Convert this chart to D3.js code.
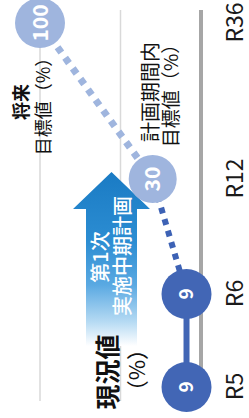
<!DOCTYPE html>
<html>
<head>
<meta charset="utf-8">
<script src="https://cdn.jsdelivr.net/npm/d3@7"></script>
<style>
  html, body { margin: 0; padding: 0; background: #fff; }
  svg { display: block; }
  text { font-family: "Noto Sans CJK JP", "Noto Sans", sans-serif; }
</style>
</head>
<body>
<div id="chartCt"></div>
<script>
// data
var categories = ["R5", "R6", "R12", "R36"];
var values = [9, 9, 30, 100];
var gridValues = [50, 100];
// 0,1 = actual (solid), 1->2 = plan (dotted dark), 2->3 = future (dotted light)
var pointKind = ["actual", "actual", "plan", "future"];

var W = 249, H = 418;

var svg = d3.select("#chartCt")
    .append("svg")
    .attr("width", W)
    .attr("height", H);

var defs = svg.append("defs");
var grad = defs.append("linearGradient")
    .attr("id", "arrowGrad")
    .attr("gradientUnits", "userSpaceOnUse")
    .attr("x1", 72).attr("y1", 0)
    .attr("x2", 246).attr("y2", 0);
grad.append("stop").attr("offset", "0").attr("stop-color", "#ffffff");
grad.append("stop").attr("offset", "0.14").attr("stop-color", "#b5daf3");
grad.append("stop").attr("offset", "0.35").attr("stop-color", "#5aa9e2");
grad.append("stop").attr("offset", "0.6").attr("stop-color", "#2c8dd2");
grad.append("stop").attr("offset", "1").attr("stop-color", "#1a7bc4");

// chart is drawn in a normal frame, then turned a quarter to the left
var g = svg.append("g")
    .attr("transform", "translate(0," + H + ") rotate(-90)");

var x = d3.scaleLinear()
    .domain(d3.range(categories.length))
    .range([31, 124, 239, 395]);

var y = d3.scaleLinear().domain([0, 100]).range([201, 40]);

// gridlines
g.selectAll(".grid")
    .data(gridValues)
    .enter().append("line")
    .attr("x1", 17).attr("x2", 408)
    .attr("y1", function (d) { return y(d); })
    .attr("y2", function (d) { return y(d); })
    .attr("stroke", "#d9d9d9")
    .attr("stroke-width", 1.5);

// base axis
g.append("line")
    .attr("x1", 17).attr("x2", 408)
    .attr("y1", y(0)).attr("y2", y(0))
    .attr("stroke", "#a6a6a6")
    .attr("stroke-width", 4);

var axis = g.append("g")
    .attr("transform", "translate(0," + y(0) + ")")
    .call(d3.axisBottom(x)
        .tickValues(d3.range(categories.length))
        .tickFormat(function (i) { return categories[i]; })
        .tickSize(0)
        .tickPadding(26));
axis.select(".domain").remove();
axis.selectAll("text")
    .style("font-size", "23px")
    .style("font-family", "'Noto Sans CJK JP', 'Noto Sans', sans-serif")
    .attr("fill", "#1a1a1a");

// arrow
var ax0 = 72, axBase = 209, axTip = 246;
var vL = 86, vR = 137, hL = 73, hR = 150;
g.append("path")
    .attr("d", "M" + ax0 + "," + vL + "L" + axBase + "," + vL + "L" + axBase + "," + hL +
        "L" + axTip + "," + ((hL + hR) / 2) + "L" + axBase + "," + hR +
        "L" + axBase + "," + vR + "L" + ax0 + "," + vR + "Z")
    .attr("fill", "url(#arrowGrad)");

g.append("text")
    .attr("x", 161).attr("y", 107.5)
    .attr("text-anchor", "middle")
    .attr("fill", "#fff")
    .style("font-size", "20px")
    .style("font-weight", "500")
    .text("第1次");
g.append("text")
    .attr("x", 162).attr("y", 129.5)
    .attr("text-anchor", "middle")
    .attr("fill", "#fff")
    .style("font-size", "20px")
    .style("font-weight", "500")
    .text("実施中期計画");

// connecting lines
var segs = d3.range(values.length - 1).map(function (i) {
    return { a: i, b: i + 1, kind: pointKind[i + 1] };
});
var segStyle = {
    actual: { color: "#4266b5", width: 6, dash: null },
    plan: { color: "#3d62b5", width: 6, dash: "6,6" },
    future: { color: "#9fb5de", width: 7, dash: "6.5,6.5" }
};
g.selectAll(".seg")
    .data(segs)
    .enter().append("line")
    .attr("x1", function (d) { return x(d.a); })
    .attr("y1", function (d) { return y(values[d.a]); })
    .attr("x2", function (d) { return x(d.b); })
    .attr("y2", function (d) { return y(values[d.b]); })
    .attr("stroke", function (d) { return segStyle[d.kind].color; })
    .attr("stroke-width", function (d) { return segStyle[d.kind].width; })
    .attr("stroke-dasharray", function (d) { return segStyle[d.kind].dash; });

// points
var pts = values.map(function (v, i) { return { i: i, v: v, kind: pointKind[i] }; });
var pointFill = { actual: "#4266b5", plan: "#9fb5de", future: "#9fb5de" };
g.selectAll(".pt")
    .data(pts)
    .enter().append("circle")
    .attr("cx", function (d) { return x(d.i); })
    .attr("cy", function (d) { return y(d.v); })
    .attr("r", function (d) { return d.kind === "plan" ? 24 : 25; })
    .attr("fill", function (d) { return pointFill[d.kind]; });

g.selectAll(".ptLabel")
    .data(pts)
    .enter().append("text")
    .attr("x", function (d) { return x(d.i); })
    .attr("y", function (d) { return y(d.v); })
    .attr("dy", "0.36em")
    .attr("text-anchor", "middle")
    .attr("fill", "#fff")
    .style("font-size", function (d) { return d.kind === "actual" ? "19px" : "21px"; })
    .style("font-weight", "bold")
    .text(function (d) { return d.v; });

// annotations
function label(txt, u, v, size, weight) {
    g.append("text")
        .attr("x", u).attr("y", v)
        .attr("text-anchor", "middle")
        .attr("fill", "#111")
        .style("font-size", size + "px")
        .style("font-weight", weight || "normal")
        .text(txt);
}
label("将来", 316, 27.5, 18, "bold");
label("目標値（%）", 316, 50, 18);
label("計画期間内", 326, 158, 20);
label("目標値（%）", 327, 178, 19);
label("現況値", 46, 117, 25, "bold");
label("（%）", 48, 145, 22);
</script>
</body>
</html>
